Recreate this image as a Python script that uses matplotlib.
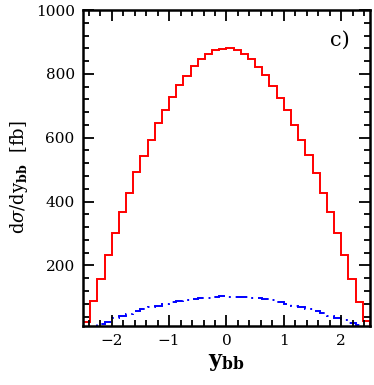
import matplotlib
matplotlib.use('Agg')
import matplotlib.pyplot as plt
import numpy as np

# bin edges for y_bb (40 bins of 0.125)
edges = np.linspace(-2.5, 2.5, 41)

# red solid histogram, dsigma/dy_bb [fb]
red_vals = [24, 88, 158, 232, 302, 366, 427, 493, 544, 594,
            645, 687, 728, 766, 794, 826, 845, 862, 874, 878,
            882, 875, 861, 845, 823, 795, 763, 724, 688, 641,
            592, 545, 489, 428, 368, 303, 232, 159, 86, 26]

# blue dashed histogram
blue_vals = [0, 3, 15, 24, 34, 41, 49, 56, 64, 70,
             74, 79, 84, 88, 92, 95, 98, 99, 101, 103,
             102, 100, 101, 99, 97, 94, 91, 85, 80, 74,
             69, 64, 58, 50, 42, 36, 28, 20, 12, 0]

xticks = [-2, -1, 0, 1, 2]
yticks = [200, 400, 600, 800, 1000]

plt.rcParams['font.family'] = 'DejaVu Serif'
plt.rcParams['mathtext.fontset'] = 'dejavuserif'

fig = plt.figure(figsize=(3.74, 3.85), dpi=100)
ax = fig.add_axes([0.222, 0.153, 0.767, 0.821])

ax.stairs(red_vals, edges, color='#ff0000', linewidth=1.4)
ax.stairs(blue_vals, edges, color='#0000ff', linewidth=1.4,
          linestyle=(0, (6, 2.5, 1, 2.5)))

ax.set_xlim(-2.5, 2.5)
ax.set_ylim(10, 1000)
ax.set_xticks(xticks)
ax.set_xticklabels(['\u22122', '\u22121', '0', '1', '2'])
ax.set_yticks(yticks)
ax.set_xticks(np.arange(-2.4, 2.5, 0.2), minor=True)
ax.set_yticks(np.arange(40, 1000, 40), minor=True)

ax.tick_params(which='both', direction='in', top=True, right=True,
               labelsize=11, width=1.3, pad=6)
ax.tick_params(which='major', length=8)
ax.tick_params(which='minor', length=4)
for s in ax.spines.values():
    s.set_linewidth(1.8)

ax.set_xlabel(r'$\mathbf{y_{bb}}$', fontsize=16, labelpad=2)
ax.set_ylabel(r'$\mathrm{d}\sigma/\mathrm{dy}_{\mathbf{bb}}$  [fb]', fontsize=13)
ax.yaxis.set_label_coords(-0.185, 0.47)
ax.text(0.93, 0.905, 'c)', transform=ax.transAxes, fontsize=15,
        ha='right', va='center')

fig.savefig('out.png', dpi=100)
